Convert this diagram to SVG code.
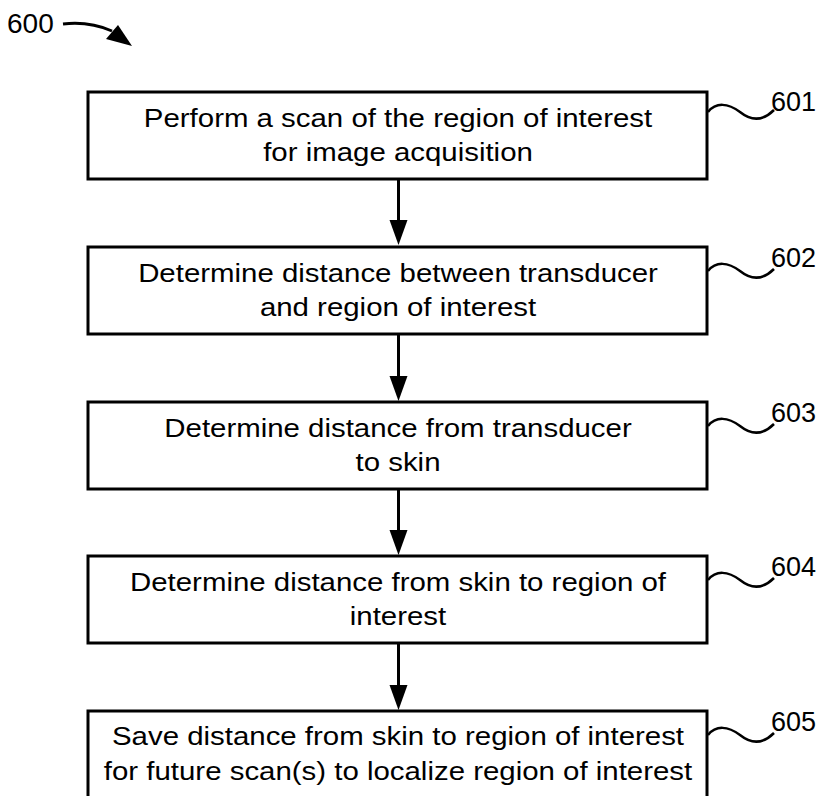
<svg xmlns="http://www.w3.org/2000/svg" width="824" height="796" viewBox="0 0 824 796">
<style>
.box{fill:#fff;stroke:#000;stroke-width:3}
.t{font-family:"Liberation Sans",Arial,sans-serif;font-size:26.5px;fill:#000;text-anchor:middle}
.lbl{font-family:"Liberation Sans",Arial,sans-serif;font-size:27px;fill:#000}
.sq{fill:none;stroke:#000;stroke-width:2.5}
.ar{stroke:#000;stroke-width:3;fill:none}
.hd{fill:#000}
</style>
<rect width="824" height="796" fill="#fff"/>
<g id="label600">
<text class="lbl" x="7" y="33" style="font-size:28px">600</text>
<path d="M63,24 C80,22 96,24 112,31" fill="none" stroke="#000" stroke-width="3"/>
<path class="hd" d="M106,39 L118,25 L132,46 Z"/>
</g>
<g id="connectors">
<line class="ar" x1="398.5" y1="180" x2="398.5" y2="222"/>
<path class="hd" d="M389.5,220 L407.5,220 L398.5,245 Z"/>
<line class="ar" x1="398.5" y1="335" x2="398.5" y2="378"/>
<path class="hd" d="M389.5,376 L407.5,376 L398.5,401 Z"/>
<line class="ar" x1="398.5" y1="490" x2="398.5" y2="532"/>
<path class="hd" d="M389.5,530 L407.5,530 L398.5,555 Z"/>
<line class="ar" x1="398.5" y1="644" x2="398.5" y2="687"/>
<path class="hd" d="M389.5,685 L407.5,685 L398.5,710 Z"/>
</g>
<g id="n601">
<rect class="box" x="88" y="92" width="619" height="87"/>
<text class="t" transform="matrix(1.11 0 0 1 398 127)">Perform a scan of the region of interest</text>
<text class="t" transform="matrix(1.11 0 0 1 398 161)">for image acquisition</text>
<path class="sq" d="M708,112 C716,102 728,103 740,112 C750,120 762,122 774,110"/>
<text class="lbl" x="771" y="111">601</text>
</g>
<g id="n602">
<rect class="box" x="88" y="247" width="619" height="87"/>
<text class="t" transform="matrix(1.11 0 0 1 398 282)">Determine distance between transducer</text>
<text class="t" transform="matrix(1.11 0 0 1 398 316)">and region of interest</text>
<path class="sq" d="M708,271 C716,261 728,262 740,271 C750,279 762,281 774,269"/>
<text class="lbl" x="771" y="267">602</text>
</g>
<g id="n603">
<rect class="box" x="88" y="402" width="619" height="87"/>
<text class="t" transform="matrix(1.11 0 0 1 398 437)">Determine distance from transducer</text>
<text class="t" transform="matrix(1.11 0 0 1 398 471)">to skin</text>
<path class="sq" d="M708,426 C716,416 728,417 740,426 C750,434 762,436 774,424"/>
<text class="lbl" x="771" y="422">603</text>
</g>
<g id="n604">
<rect class="box" x="88" y="556" width="619" height="87"/>
<text class="t" transform="matrix(1.11 0 0 1 398 591)">Determine distance from skin to region of</text>
<text class="t" transform="matrix(1.11 0 0 1 398 625)">interest</text>
<path class="sq" d="M708,580 C716,570 728,571 740,580 C750,588 762,590 774,578"/>
<text class="lbl" x="771" y="576">604</text>
</g>
<g id="n605">
<rect class="box" x="88" y="711" width="619" height="100"/>
<text class="t" transform="matrix(1.11 0 0 1 398 745)">Save distance from skin to region of interest</text>
<text class="t" transform="matrix(1.11 0 0 1 398 780)">for future scan(s) to localize region of interest</text>
<path class="sq" d="M708,735 C716,725 728,726 740,735 C750,743 762,745 774,733"/>
<text class="lbl" x="771" y="731">605</text>
</g>
</svg>
